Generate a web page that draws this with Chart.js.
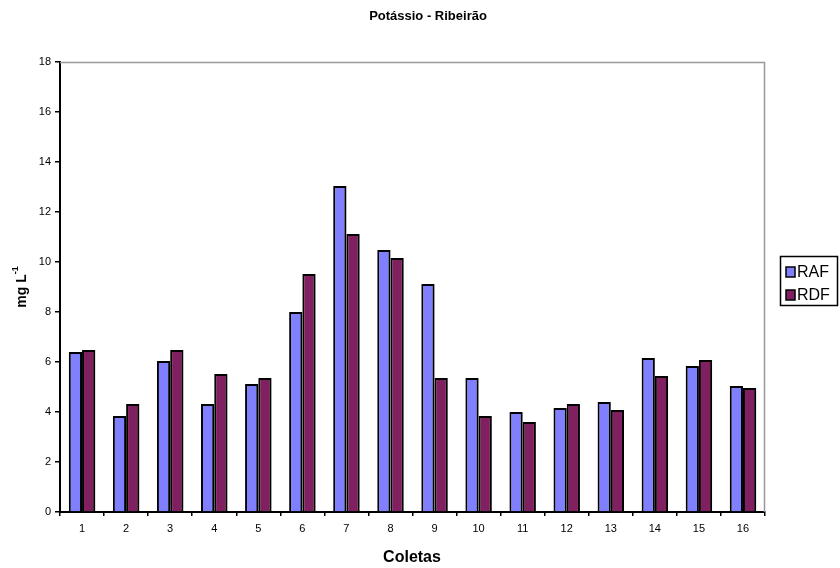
<!DOCTYPE html>
<html>
<head>
<meta charset="utf-8">
<script src="https://cdn.jsdelivr.net/npm/chart.js@4/dist/chart.umd.min.js"></script>
<style>
  html, body { margin: 0; padding: 0; background: #fff; }
  #wrap { width: 840px; height: 568px; position: relative; }
</style>
</head>
<body>
<div id="wrap"><canvas id="potassio"></canvas></div>
<script>
// coletas 1..16
const coletas = ['1', '2', '3', '4', '5', '6', '7', '8', '9', '10', '11', '12', '13', '14', '15', '16'];
const rafValues = [6.4, 3.84, 6.04, 4.32, 5.12, 8.0, 13.04, 10.48, 9.12, 5.36, 4.0, 4.16, 4.4, 6.16, 5.84, 5.04];
const rdfValues = [6.48, 4.32, 6.48, 5.52, 5.36, 9.52, 11.12, 10.16, 5.36, 3.84, 3.6, 4.32, 4.08, 5.44, 6.08, 4.96];
const yTicks = [0, 2, 4, 6, 8, 10, 12, 14, 16, 18];

const FONT = 'Liberation Sans, Arial, sans-serif';

// titulo, eixos, borda e legenda desenhados a mao
const decorPlugin = {
  id: 'decor',
  beforeDatasetsDraw(chart) {
    const ctx = chart.ctx;
    ctx.save();
    ctx.shadowColor = 'rgba(0,0,0,0.3)';
    ctx.shadowOffsetX = 2;
    ctx.shadowOffsetY = 0;
    ctx.shadowBlur = 0;
  },
  afterDatasetsDraw(chart) {
    chart.ctx.restore();
  },
  afterDraw(chart) {
    const ctx = chart.ctx;
    const a = chart.chartArea;
    ctx.save();

    // borda cinza em cima e a direita
    ctx.strokeStyle = '#999';
    ctx.lineWidth = 1.5;
    ctx.beginPath();
    ctx.moveTo(a.left, a.top + 0.5);
    ctx.lineTo(a.right - 0.5, a.top + 0.5);
    ctx.lineTo(a.right - 0.5, a.bottom);
    ctx.stroke();

    // titulo
    ctx.fillStyle = '#000';
    ctx.textAlign = 'center';
    ctx.textBaseline = 'middle';
    ctx.font = 'bold 13px ' + FONT;
    ctx.fillText('Potássio - Ribeirão', 428, 16);

    // titulo eixo x
    ctx.font = 'bold 16px ' + FONT;
    ctx.fillText('Coletas', 412, 558);

    // titulo eixo y com expoente
    ctx.translate(22, 287);
    ctx.rotate(-Math.PI / 2);
    ctx.font = 'bold 14px ' + FONT;
    const base = 'mg L';
    const wBase = ctx.measureText(base).width;
    ctx.font = 'bold 9px ' + FONT;
    const wSup = ctx.measureText('-1').width;
    const start = -(wBase + wSup) / 2;
    ctx.textAlign = 'left';
    ctx.font = 'bold 14px ' + FONT;
    ctx.fillText(base, start, 0);
    ctx.font = 'bold 9px ' + FONT;
    ctx.fillText('-1', start + wBase, -6);
    ctx.setTransform(1, 0, 0, 1, 0, 0);

    // legenda
    ctx.strokeStyle = '#000';
    ctx.lineWidth = 1.5;
    ctx.strokeRect(780.5, 256.5, 57, 49);
    ctx.font = '16px ' + FONT;
    ctx.textAlign = 'left';
    chart.data.datasets.forEach((ds, i) => {
      const y = 272 + i * 23;
      ctx.fillStyle = ds.backgroundColor;
      ctx.fillRect(786, y - 5, 9, 10);
      ctx.lineWidth = 1.5;
      ctx.strokeRect(786, y - 5, 9, 10);
      ctx.fillStyle = '#000';
      ctx.fillText(ds.label, 797, y + 1);
    });
    ctx.restore();
  }
};

const ctx = document.getElementById('potassio').getContext('2d');
new Chart(ctx, {
  type: 'bar',
  data: {
    labels: coletas,
    datasets: [
      {
        label: 'RAF',
        data: rafValues,
        backgroundColor: '#8080FF',
        borderColor: '#000',
        borderWidth: 2,
        categoryPercentage: 0.6,
        barPercentage: 1.0
      },
      {
        label: 'RDF',
        data: rdfValues,
        backgroundColor: '#802060',
        borderColor: '#000',
        borderWidth: 2,
        categoryPercentage: 0.6,
        barPercentage: 1.0
      }
    ]
  },
  options: {
    responsive: true,
    maintainAspectRatio: false,
    animation: false,
    layout: { padding: { top: 62, right: 75, left: 0, bottom: 0 } },
    plugins: {
      legend: { display: false },
      title: { display: false },
      tooltip: { enabled: false }
    },
    scales: {
      x: {
        offset: true,
        grid: {
          offset: true,
          drawOnChartArea: false,
          drawTicks: true,
          tickLength: 4,
          color: '#000',
          lineWidth: 1.5
        },
        border: { color: '#000', width: 2 },
        ticks: {
          color: '#000',
          font: { family: FONT, size: 11 },
          padding: 6,
          maxRotation: 0
        },
        afterFit(scale) { scale.height = 56; }
      },
      y: {
        min: 0,
        max: 18,
        afterBuildTicks(scale) {
          scale.ticks = yTicks.map(v => ({ value: v }));
        },
        grid: {
          drawOnChartArea: false,
          drawTicks: true,
          tickLength: 5,
          color: '#000',
          lineWidth: 1.5
        },
        border: { color: '#000', width: 2 },
        ticks: {
          color: '#000',
          font: { family: FONT, size: 11 },
          padding: 4
        },
        afterFit(scale) { scale.width = 60; }
      }
    }
  },
  plugins: [decorPlugin]
});
</script>
</body>
</html>
